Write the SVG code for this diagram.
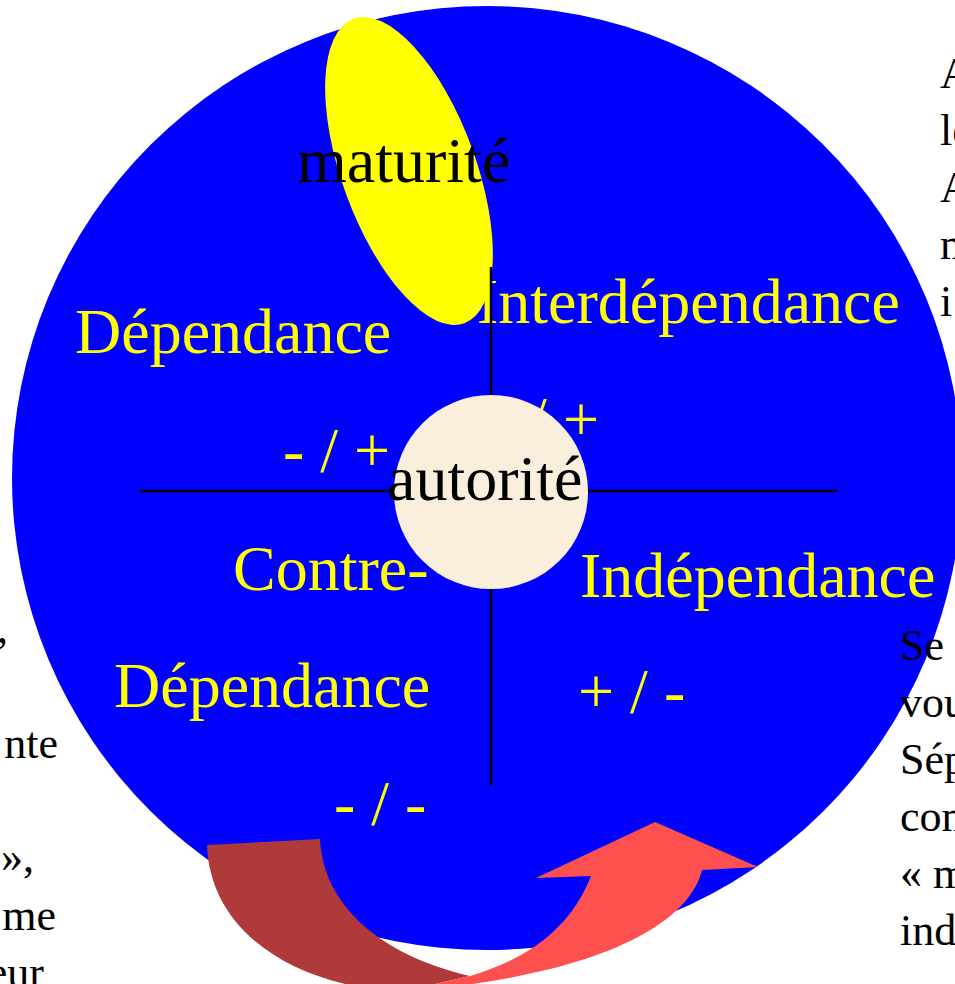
<svg xmlns="http://www.w3.org/2000/svg" width="955" height="984" viewBox="0 0 955 984">
<style>
.big{font-family:"Liberation Serif","Times New Roman",serif;font-size:64px;}
.yel{fill:#FFFF00;}
.blk{fill:#000000;}
.side{font-family:"Liberation Serif","Times New Roman",serif;font-size:44px;fill:#000000;}
.axis{stroke:#000000;stroke-width:2.5;fill:none;}
</style>
<defs>
<filter id="paper" x="0" y="0" width="100%" height="100%">
<feTurbulence type="fractalNoise" baseFrequency="0.04" numOctaves="2" seed="3" result="n"/>
<feColorMatrix in="n" type="matrix" values="0 0 0 0 0.93  0 0 0 0 0.86  0 0 0 0 0.72  0 0 0 0.35 0" result="c"/>
<feComposite in="c" in2="SourceGraphic" operator="in" result="t"/>
<feMerge><feMergeNode in="SourceGraphic"/><feMergeNode in="t"/></feMerge>
</filter>
</defs>
<rect width="955" height="984" fill="#FFFFFF"/>
<g id="cercle">
<ellipse cx="487" cy="478" rx="475" ry="472" fill="#0000FF"/>
</g>
<g id="maturite">
<ellipse cx="409" cy="171" rx="67" ry="162" fill="#FFFF00" transform="rotate(-20 409 171)"/>
<text class="big blk" x="297" y="182">maturité</text>
</g>
<g id="dependance">
<text class="big yel" x="75" y="353">Dépendance</text>
<text class="big yel" x="283" y="472">- / +</text>
</g>
<g id="interdependance">
<text class="big yel" x="477" y="323">Interdépendance</text>
<text class="big yel" x="477" y="441">+ / +</text>
</g>
<g id="contre-dependance">
<text class="big yel" x="233" y="590">Contre-</text>
<text class="big yel" x="114" y="707">Dépendance</text>
<text class="big yel" x="334" y="825">- / -</text>
</g>
<g id="independance">
<text class="big yel" x="580" y="597">Indépendance</text>
<text class="big yel" x="578" y="713">+ / -</text>
</g>
<g id="connecteurs">
<line class="axis" x1="140" y1="491" x2="838" y2="491"/>
<line class="axis" x1="491" y1="267" x2="491" y2="786"/>
</g>
<g id="autorite">
<circle cx="491" cy="492" r="97" fill="#FAEFDC" filter="url(#paper)"/>
<text class="big blk" x="387" y="500">autorité</text>
</g>
<g id="fleches">
<path d="M207,845 L320,839 C323,905 380,955 470,976 L400,992 C290,985 210,930 207,845 Z" fill="#B03A3A"/>
<path d="M470,976 C525,960 570,930 591,876 L536,878 L655,822 L758,867 L702,870 C690,920 610,975 400,992 Z" fill="#FF5050"/>
</g>
<g id="texte-droite-haut">
<text class="side" x="940" y="88">A</text>
<text class="side" x="940" y="145">le</text>
<text class="side" x="940" y="202">A</text>
<text class="side" x="940" y="259">m</text>
<text class="side" x="940" y="316">i</text>
</g>
<g id="texte-gauche">
<text class="side" x="8" y="643" text-anchor="end">,</text>
<text class="side" x="58" y="758" text-anchor="end">nte</text>
<text class="side" x="34" y="872" text-anchor="end">»,</text>
<text class="side" x="56" y="930" text-anchor="end">me</text>
<text class="side" x="44" y="987" text-anchor="end">eur</text>
</g>
<g id="texte-droite-bas">
<text class="side" x="900" y="660">Se</text>
<text class="side" x="900" y="717">vou</text>
<text class="side" x="900" y="774">Sép</text>
<text class="side" x="900" y="831">com</text>
<text class="side" x="900" y="888">« m</text>
<text class="side" x="900" y="945">ind</text>
</g>
</svg>
